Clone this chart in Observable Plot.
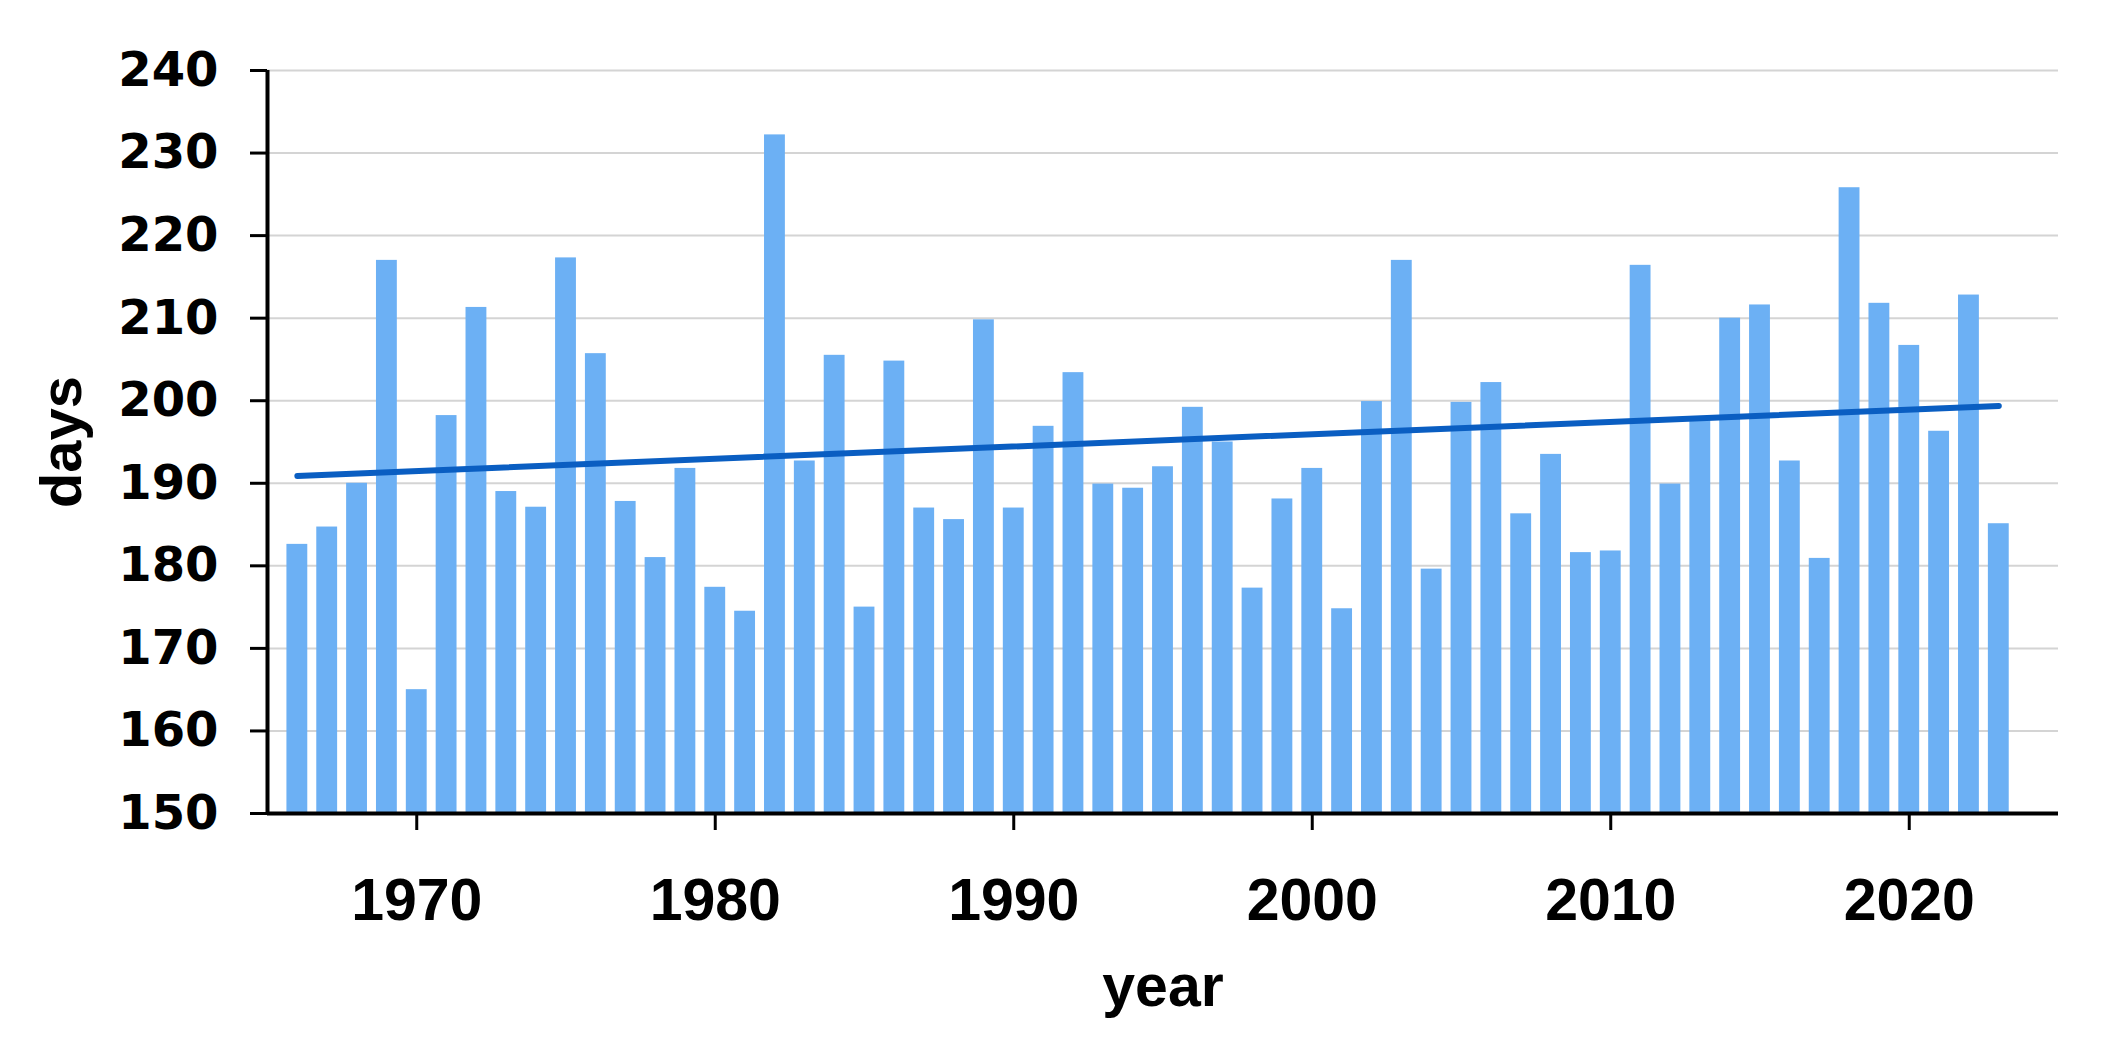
<!DOCTYPE html>
<html>
<head>
<meta charset="utf-8">
<script src="https://cdn.jsdelivr.net/npm/d3@7"></script>
<script src="https://cdn.jsdelivr.net/npm/@observablehq/plot@0.6"></script>
<style>
  html, body { margin: 0; padding: 0; background: #fff; }
  #chart svg { display: block; }
</style>
</head>
<body>
<div id="chart"></div>
<script>
const years = [
  1966, 1967, 1968, 1969, 1970, 1971, 1972, 1973, 1974, 1975,
  1976, 1977, 1978, 1979, 1980, 1981, 1982, 1983, 1984, 1985,
  1986, 1987, 1988, 1989, 1990, 1991, 1992, 1993, 1994, 1995,
  1996, 1997, 1998, 1999, 2000, 2001, 2002, 2003, 2004, 2005,
  2006, 2007, 2008, 2009, 2010, 2011, 2012, 2013, 2014, 2015,
  2016, 2017, 2018, 2019, 2020, 2021, 2022, 2023
];
const days = [
  182.6, 184.7, 190.0, 217.0, 165.0, 198.2, 211.3, 189.0, 187.1, 217.3,
  205.7, 187.8, 181.0, 191.8, 177.4, 174.5, 232.2, 192.7, 205.5, 175.0,
  204.8, 187.0, 185.6, 209.8, 187.0, 196.9, 203.4, 189.9, 189.4, 192.0,
  199.2, 195.0, 177.3, 188.1, 191.8, 174.8, 199.9, 217.0, 179.6, 199.8,
  202.2, 186.3, 193.5, 181.6, 181.8, 216.4, 189.9, 197.8, 210.0, 211.6,
  192.7, 180.9, 225.8, 211.8, 206.7, 196.3, 212.8, 185.1
];
const xTicks = [1970, 1980, 1990, 2000, 2010, 2020];
const yTicks = [150, 160, 170, 180, 190, 200, 210, 220, 230, 240];
const xDomain = [1965, 2025];
const yDomain = [150, 240];

const data = years.map((year, i) => ({year, days: days[i]}));

const sans = "'Liberation Sans', Arial, sans-serif";

const chart = Plot.plot({
  width: 2108,
  height: 1040,
  marginLeft: 267,
  marginRight: 50,
  marginTop: 70,
  marginBottom: 227,
  x: {domain: xDomain},
  y: {domain: yDomain},
  marks: [
    Plot.gridY(yTicks, {stroke: "#d4d4d4", strokeOpacity: 1, strokeWidth: 2}),
    Plot.rectY(data, {
      x1: d => d.year - 0.5,
      x2: d => d.year + 0.5,
      y1: yDomain[0],
      y2: "days",
      insetLeft: 4.5,
      insetRight: 4.5,
      fill: "#6cb0f4"
    }),
    Plot.linearRegressionY(data, {x: "year", y: "days", ci: 0, stroke: "#0a5ec2", strokeWidth: 6}),
    Plot.ruleY([yDomain[0]], {stroke: "#000", strokeWidth: 4}),
    Plot.ruleX([xDomain[0]], {stroke: "#000", strokeWidth: 4}),
    Plot.axisY({
      ticks: yTicks, tickSize: 17, tickPadding: 32, strokeWidth: 3,
      fontSize: 48, fontFamily: "'DejaVu Sans', Verdana, sans-serif", fontWeight: "bold",
      label: null
    }),
    Plot.axisY({
      ticks: [], label: "days", labelAnchor: "center", labelOffset: 228, labelArrow: "none",
      fontSize: 58, fontFamily: sans, fontWeight: "bold"
    }),
    Plot.axisX({
      ticks: xTicks, tickSize: 17, tickPadding: 48, strokeWidth: 3, tickFormat: d => String(d),
      fontSize: 59, fontFamily: sans, fontWeight: "bold",
      label: "year", labelAnchor: "center", labelOffset: 192, labelArrow: "none"
    })
  ]
});
document.getElementById("chart").appendChild(chart);
</script>
</body>
</html>
